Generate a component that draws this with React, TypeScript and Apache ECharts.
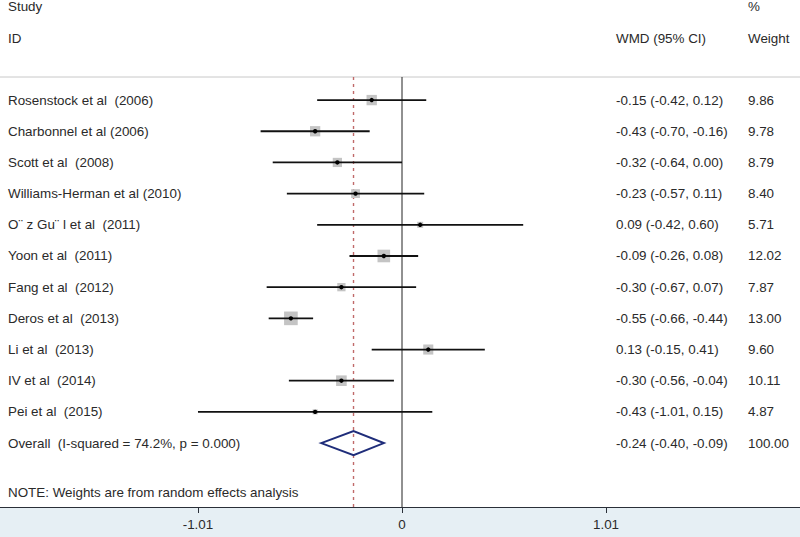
import React, { useEffect, useRef } from "react";
import * as echarts from "echarts";

const studies = [
  "Rosenstock et al  (2006)",
  "Charbonnel et al (2006)",
  "Scott et al  (2008)",
  "Williams-Herman et al (2010)",
  "O¨ z Gu¨ l et al  (2011)",
  "Yoon et al  (2011)",
  "Fang et al  (2012)",
  "Deros et al  (2013)",
  "Li et al  (2013)",
  "IV et al  (2014)",
  "Pei et al  (2015)",
];
const wmd = [-0.15, -0.43, -0.32, -0.23, 0.09, -0.09, -0.3, -0.55, 0.13, -0.3, -0.43];
const lower = [-0.42, -0.7, -0.64, -0.57, -0.42, -0.26, -0.67, -0.66, -0.15, -0.56, -1.01];
const upper = [0.12, -0.16, 0.0, 0.11, 0.6, 0.08, 0.07, -0.44, 0.41, -0.04, 0.15];
const weights = [9.86, 9.78, 8.79, 8.4, 5.71, 12.02, 7.87, 13.0, 9.6, 10.11, 4.87];

const overallLabel = "Overall  (I-squared = 74.2%, p = 0.000)";
const overallEst = -0.24;
const overallLower = -0.4;
const overallUpper = -0.09;
const overallWeight = 100.0;

const tickValues = [-1.01, 0, 1.01];
const noteText = "NOTE: Weights are from random effects analysis";

const FONT = "'Liberation Sans', Arial, sans-serif";
const FS = 13.4;
const TXT = "#2a2a2a";

export default function App() {
  const ref = useRef<HTMLDivElement>(null);

  useEffect(() => {
    if (!ref.current) return;
    const chart = echarts.init(ref.current, null, { renderer: "svg" });

    const labels = [...studies, overallLabel];
    const data = labels.map((name, i) => {
      if (i < studies.length) return [i, wmd[i], lower[i], upper[i], weights[i]];
      return [i, overallEst, overallLower, overallUpper, overallWeight];
    });

    const fmtCI = (e: number, l: number, h: number) =>
      `${e.toFixed(2)} (${l.toFixed(2)}, ${h.toFixed(2)})`;

    const renderItem = (params: any, api: any) => {
      const i = api.value(0);
      const est = api.value(1);
      const lo = api.value(2);
      const hi = api.value(3);
      const w = api.value(4);
      const pE = api.coord([est, i]);
      const pL = api.coord([lo, i]);
      const pH = api.coord([hi, i]);
      const y = pE[1];
      const textEl = (x: number, text: string) => ({
        type: "text",
        style: {
          x,
          y,
          text,
          fill: TXT,
          font: `${FS}px ${FONT}`,
          verticalAlign: "middle",
          align: "left",
        },
      });
      const children: any[] = [];
      if (i < studies.length) {
        const side = Math.max(3, w * 1.05);
        children.push({
          type: "rect",
          shape: { x: pE[0] - side / 2, y: y - side / 2, width: side, height: side },
          style: { fill: "#c4c4c4" },
        });
        children.push({
          type: "line",
          shape: { x1: pL[0], y1: y, x2: pH[0], y2: y },
          style: { stroke: "#111", lineWidth: 1.8 },
        });
        children.push({
          type: "circle",
          shape: { cx: pE[0], cy: y, r: 2.2 },
          style: { fill: "#000" },
        });
      } else {
        const hh = 12;
        children.push({
          type: "polygon",
          shape: {
            points: [
              [pL[0], y],
              [pE[0], y - hh],
              [pH[0], y],
              [pE[0], y + hh],
            ],
          },
          style: { fill: "none", stroke: "#1f2d7a", lineWidth: 2 },
        });
      }
      children.push(textEl(8, labels[i]));
      children.push(textEl(616, fmtCI(est, lo, hi)));
      children.push(textEl(748, w.toFixed(2)));
      return { type: "group", children };
    };

    const yMin = -0.74;
    const yMax = 13.05;
    const hdr = (x: number, y: number, text: string) => ({
      type: "text",
      x,
      y,
      style: { text, fill: TXT, font: `${FS}px ${FONT}`, verticalAlign: "middle" },
    });

    chart.setOption({
      animation: false,
      backgroundColor: "#fff",
      grid: { left: 0, right: 0, top: 77, bottom: 30 },
      xAxis: {
        type: "value",
        min: -402 / 202,
        max: 398 / 202,
        splitLine: { show: false },
        axisLine: { show: true, onZero: false, lineStyle: { color: "#2a2f38", width: 1 } },
        axisTick: {
          show: true,
          length: 6,
          customValues: tickValues,
          lineStyle: { color: "#2a2f38" },
        },
        axisLabel: {
          customValues: tickValues,
          formatter: (v: number) => (v === 0 ? "0" : v.toFixed(2)),
          color: TXT,
          fontFamily: FONT,
          fontSize: FS,
          margin: 11,
        },
      },
      yAxis: {
        type: "value",
        inverse: true,
        min: yMin,
        max: yMax,
        show: false,
      },
      graphic: [
        {
          type: "rect",
          z: -10,
          shape: { x: 0, y: 507, width: 800, height: 30 },
          style: { fill: "#e6eff4" },
        },
        {
          type: "line",
          shape: { x1: 0, y1: 77, x2: 800, y2: 77 },
          style: { stroke: "#c8c8c8", lineWidth: 1 },
        },
        hdr(8, 6, "Study"),
        hdr(8, 38, "ID"),
        hdr(748, 6, "%"),
        hdr(616, 38, "WMD (95% CI)"),
        hdr(748, 38, "Weight"),
        hdr(8, 492, noteText),
      ],
      series: [
        {
          type: "line",
          data: [
            [0, yMin],
            [0, yMax],
          ],
          symbol: "none",
          lineStyle: { color: "#222", width: 1 },
          silent: true,
        },
        {
          type: "line",
          data: [
            [overallEst, yMin],
            [overallEst, yMax],
          ],
          symbol: "none",
          lineStyle: { color: "#c06a6a", width: 1.4, type: [3, 4], opacity: 1 },
          silent: true,
        },
        {
          type: "custom",
          renderItem,
          data,
          z: 5,
        },
      ],
    });

    return () => chart.dispose();
  }, []);

  return (
    <div
      ref={ref}
      style={{ position: "fixed", left: 0, top: 0, width: 800, height: 537 }}
    />
  );
}
